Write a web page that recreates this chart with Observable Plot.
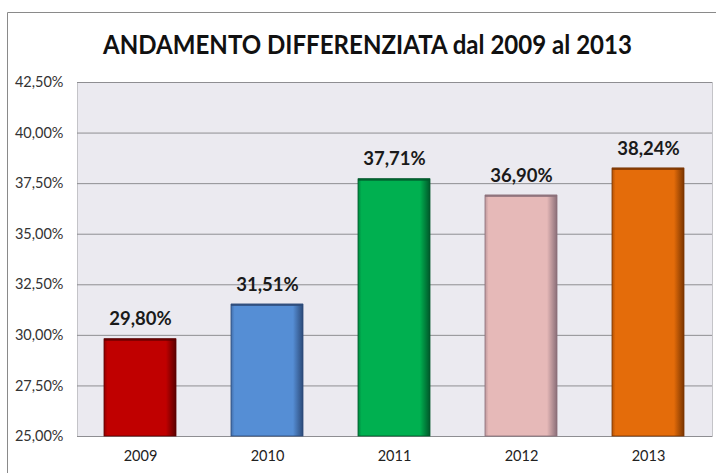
<!DOCTYPE html>
<html>
<head>
<meta charset="utf-8">
<script src="https://cdn.jsdelivr.net/npm/d3@7"></script>
<script src="https://cdn.jsdelivr.net/npm/@observablehq/plot@0.6"></script>
<style>
  html, body { margin: 0; padding: 0; background: #fff; }
  #chart svg { display: block; }
</style>
</head>
<body>
<div id="chart"></div>
<script>
const title = "ANDAMENTO DIFFERENZIATA dal 2009 al 2013";
const years = ["2009", "2010", "2011", "2012", "2013"];
const values = [0.2980, 0.3151, 0.3771, 0.3690, 0.3824];
const colors = ["#c00000", "#558ed5", "#00b050", "#e6b9b8", "#e46c0a"];
const edgeColors = ["#5a0000", "#2c4a78", "#00572a", "#8a6e78", "#7a3500"];
const yTicks = [0.25, 0.275, 0.30, 0.325, 0.35, 0.375, 0.40, 0.425];

const it = d3.formatLocale({decimal: ",", thousands: ".", grouping: [3], currency: ["", "€"], percent: "%"});
const pct = it.format(".2%");

const data = years.map((y, i) => ({year: y, value: values[i], grad: `url(#grad${i})`, edge: edgeColors[i]}));

const font = "Lato, 'Open Sans', sans-serif";

const chart = Plot.plot({
  width: 716,
  height: 473,
  marginTop: 82,
  marginLeft: 77,
  marginRight: 4,
  marginBottom: 37,
  style: {fontFamily: font, background: "#fff"},
  x: {domain: years, paddingInner: 0.43, paddingOuter: 0.215, label: null},
  y: {domain: [0.25, 0.425], label: null},
  color: {type: "identity"},
  marks: [
    Plot.frame({fill: "#ebeaf0", stroke: "#c4c4c8"}),
    Plot.ruleY(yTicks, {stroke: "#8e8e92", strokeWidth: 1}),
    Plot.axisY({ticks: yTicks, tickFormat: pct, tickSize: 0, tickPadding: 14, fontSize: 14.5, fill: "#333"}),
    Plot.axisX({tickSize: 0, tickPadding: 14, fontSize: 14.5, fill: "#222"}),
    Plot.barY(data, {x: "year", y1: 0.25, y2: "value", fill: "grad", stroke: "edge", strokeWidth: 0.8}),
    Plot.tickY(data, {x: "year", y: "value", stroke: "edge", strokeWidth: 2.5, strokeOpacity: 0.8}),
    Plot.text(data, {x: "year", y: "value", text: d => pct(d.value), dy: -20, fontSize: 18.5, fontWeight: "bold", fill: "#1a1a1a"})
  ]
});

const svg = d3.select(chart);
const defs = svg.insert("defs", ":first-child");
colors.forEach((c, i) => {
  const g = defs.append("linearGradient").attr("id", `grad${i}`).attr("x1", "0").attr("x2", "1").attr("y1", "0").attr("y2", "0");
  const dark = d3.color(edgeColors[i]);
  g.append("stop").attr("offset", "0").attr("stop-color", d3.interpolateRgb(c, dark)(0.45));
  g.append("stop").attr("offset", "0.05").attr("stop-color", c);
  g.append("stop").attr("offset", "0.86").attr("stop-color", c);
  g.append("stop").attr("offset", "1").attr("stop-color", dark.formatHex());
});

// outer chart border (top and left visible)
svg.append("path").attr("d", "M7.5,473V12.5H716").attr("fill", "none").attr("stroke", "#8a8a8a").attr("stroke-width", 1);

// title
svg.append("text")
  .attr("x", 367.5).attr("y", 54)
  .attr("text-anchor", "middle")
  .attr("textLength", 529).attr("lengthAdjust", "spacingAndGlyphs")
  .attr("font-family", font).attr("font-weight", "bold").attr("font-size", 27.5)
  .attr("fill", "#111")
  .text(title);

document.getElementById("chart").appendChild(chart);
</script>
</body>
</html>
